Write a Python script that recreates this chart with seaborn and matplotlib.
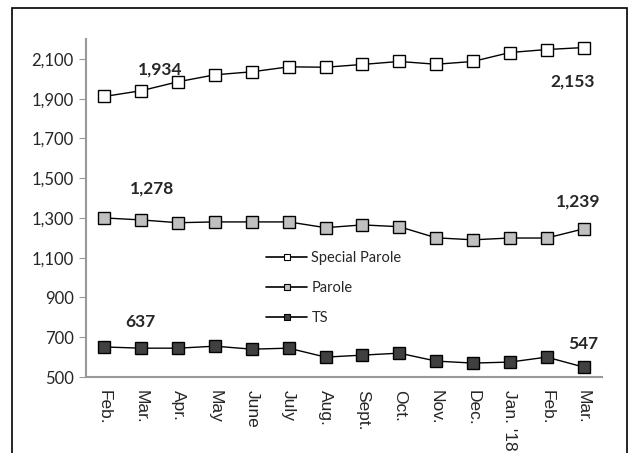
import pandas as pd
import seaborn as sns
import matplotlib.pyplot as plt
from matplotlib.lines import Line2D
from matplotlib.patches import Rectangle

# Datos
months = ['Feb.', 'Mar.', 'Apr.', 'May', 'June', 'July', 'Aug.', 'Sept.',
          'Oct.', 'Nov.', 'Dec.', "Jan. '18", 'Feb.', 'Mar.']
special_parole = [1911, 1940, 1985, 2020, 2035, 2060, 2058, 2072, 2087, 2073, 2087, 2132, 2147, 2157]
parole = [1300, 1290, 1276, 1280, 1280, 1280, 1251, 1265, 1256, 1200, 1190, 1199, 1199, 1245]
ts = [651, 645, 645, 655, 640, 645, 600, 610, 620, 580, 570, 575, 600, 550]
callouts = ['1,934', '2,153', '1,278', '1,239', '637', '547']

series = {'Special Parole': (special_parole, 'white'),
          'Parole': (parole, '#c0c0c0'),
          'TS': (ts, '#404040')}

sns.set_style('white')
plt.rcParams['font.family'] = ['Lato', 'DejaVu Sans']

fig = plt.figure(figsize=(6.31, 4.53), dpi=100)
ax = fig.add_axes([86 / 631, 1 - 377 / 453, 516 / 631, 338 / 453])

x = list(range(len(months)))
handles = []
for name, (vals, face) in series.items():
    df = pd.DataFrame({'x': x, 'y': vals})
    sns.lineplot(data=df, x='x', y='y', ax=ax, color='black', linewidth=1,
                 marker='s', markersize=9, markerfacecolor=face,
                 markeredgecolor='black', markeredgewidth=1)
    handles.append(Line2D([0], [0], color='black', linewidth=1.2, marker='s',
                          markersize=5, markerfacecolor=face,
                          markeredgecolor='black', markeredgewidth=0.8, label=name))

ax.set_xlim(-0.5, len(months) - 0.5)
ax.set_ylim(500, 2200)
ax.set_yticks(range(500, 2101, 200))
ax.set_yticklabels([f'{v:,}' for v in range(500, 2101, 200)], fontsize=12)
ax.set_xticks(x)
ax.set_xticklabels(months, rotation=270, fontsize=12.5, family='Liberation Sans')
ax.set_xticks([i - 0.5 for i in range(len(months) + 1)], minor=True)
ax.tick_params(axis='x', which='major', length=0, pad=9)
ax.tick_params(axis='x', which='minor', length=5, color='#999999', direction='out')
ax.tick_params(axis='y', length=5, color='#999999', direction='out', left=True, pad=4)
ax.set_xlabel('')
ax.set_ylabel('')
for s in ['top', 'right']:
    ax.spines[s].set_visible(False)
for s in ['left', 'bottom']:
    ax.spines[s].set_color('#999999')
    ax.spines[s].set_linewidth(1.5)

# Etiquetas de valores
pos = [(1.52, 2047), (12.7, 1986), (1.3, 1447), (12.85, 1382), (0.98, 777), (12.98, 666)]
for txt, (px, py) in zip(callouts, pos):
    ax.text(px, py, txt, ha='center', va='center', fontsize=12.5, fontweight='bold')

ax.legend(handles=handles, loc='upper left', bbox_to_anchor=(0.338, 0.39),
          frameon=False, fontsize=10.5, labelspacing=1.1, handlelength=2.8,
          handletextpad=0.3, borderaxespad=0)

fig.patches.append(Rectangle((12 / 631, -0.1), 615 / 631, 1.1 - 8 / 453,
                             transform=fig.transFigure, fill=False,
                             edgecolor='black', linewidth=1.2))

fig.savefig('out.png', dpi=100)
